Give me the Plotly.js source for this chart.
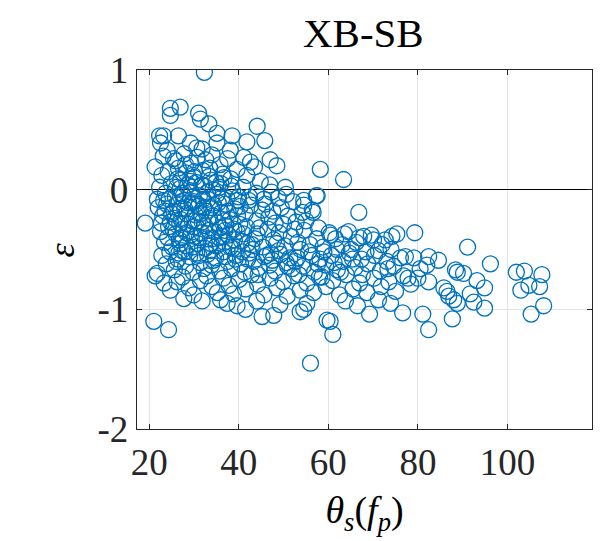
<!DOCTYPE html>
<html>
<head>
<meta charset="utf-8">
<script src="https://cdn.plot.ly/plotly-3.0.1.min.js"></script>
<style>html,body{margin:0;padding:0;background:#fff;}#chart{width:603px;height:541px;}</style>
</head>
<body>
<div id="chart"></div>
<script>
// theta_s(f_p) values (x) and epsilon values (y)
const thetaS = [
 32.3,24.7,26.9,24.7,31.0,31.4,33.3,44.1,22.3,23.2,26.5,35.1,38.5,41.8,45.8,21.3,58.2,47.0,48.5,50.4,57.5,54.5,29.2,31.8,22.5,24.0,35.1,38.1,41.1,42.6,
 23.1,25.4,27.8,29.3,30.7,32.6,34.0,35.8,37.5,39.6,41.8,43.5,26.5,28.2,31.9,33.4,24.2,22.8,36.4,38.2,44.8,46.9,30.0,27.0,
 22.3,23.6,24.9,25.8,26.9,27.7,28.6,29.4,30.5,31.2,32.3,33.1,34.2,35.1,36.0,37.3,38.6,39.8,41.0,42.4,43.9,45.6,47.3,48.8,50.6,52.1,21.8,29.9,33.7,26.3,
 22.0,23.0,23.9,24.7,25.5,26.2,27.1,27.9,28.8,29.5,30.3,31.0,31.8,32.7,33.5,34.4,35.3,36.1,37.0,38.0,39.1,40.2,41.4,42.7,44.0,45.2,46.7,48.1,49.5,51.0,52.8,54.2,25.0,28.3,30.9,33.9,36.6,39.7,23.5,26.8,
 22.5,23.4,24.3,25.1,25.9,26.7,27.5,28.4,29.2,30.0,30.8,31.6,32.5,33.3,34.1,35.0,35.9,36.8,37.7,38.7,39.6,40.6,41.7,42.9,44.1,45.4,46.5,47.8,49.0,50.3,51.7,53.2,54.6,55.9,57.4,58.8,60.5,61.6,63.1,64.5,66.2,67.9,70.1,72.0,74.2,75.3,79.3,27.2,31.2,36.3,43.6,48.4,
 22.8,23.8,24.6,25.6,26.4,27.3,28.1,29.0,29.8,30.6,31.4,32.2,33.0,33.9,34.8,35.7,36.6,37.5,38.4,39.4,40.4,41.3,42.3,43.3,44.5,45.7,46.9,48.1,49.3,50.6,51.9,53.1,54.4,55.6,56.9,58.1,59.4,60.7,62.0,63.3,64.7,66.0,67.4,68.8,70.3,71.6,73.1,74.6,76.1,77.2,79.1,80.5,82.4,82.0,84.6,88.4,88.8,90.2,96.2,26.0,34.3,42.0,47.5,52.6,57.6,61.3,65.4,
 23.3,24.7,26.2,27.4,28.9,29.9,31.4,32.8,34.0,35.2,36.5,37.8,38.8,40.1,41.5,42.8,44.2,45.6,47.0,48.5,49.9,50.8,52.3,53.7,55.2,56.7,58.0,59.5,61.0,62.5,64.0,65.5,67.0,68.6,70.2,71.8,73.5,75.0,76.8,78.4,80.0,82.4,85.8,86.5,86.9,91.7,93.2,94.9,103.0,104.8,107.2,102.0,103.8,107.7,
 27.7,35.9,37.4,41.5,45.2,47.8,53.7,55.2,54.5,59.7,60.4,61.0,56.0,69.2,76.6,81.1,82.4,87.7,88.0,88.8,92.5,94.9,105.3,108.1,21.0,24.3,63.8,66.5,71.2,73.9,44.0,49.2,31.8,39.6,
 91.1,19.1,21.3,21.8,63.4,57.3,66.8,56.4,54.5,56.6,
 24.4,25.3,26.1,26.9,27.6,28.3,29.1,29.7,30.4,31.1,31.7,32.4,33.0,33.6,34.3,34.9,35.6,36.2,36.9,37.6,38.3,39.0,39.9,40.8,25.7,27.0,28.0,29.6,30.2,31.5,32.9,34.6,35.4,37.1,38.9,40.3,24.1,23.2,22.7,26.6,28.7,30.1,32.0,33.8,36.7,38.1,41.1,42.2,43.0,44.6,45.9,46.2,47.6,48.9,50.0,51.4,52.5,53.8,55.0,56.3,57.8,59.0,60.2,61.9,63.6,65.1,66.9,68.4,69.6,71.2,72.7,74.0,
 28.1,30.6,33.5,27.3,29.8,35.7,25.9,32.2,36.9,39.2,41.9,44.3,47.1,50.9,53.4,58.6,62.7,67.6,73.3,77.8
];
const epsilon = [
 0.98,0.68,0.69,0.62,0.64,0.59,0.55,0.53,0.45,0.45,0.45,0.47,0.45,0.40,0.41,0.19,0.17,0.25,0.20,0.02,-0.05,-0.09,0.39,0.34,0.39,0.33,0.39,0.33,0.27,0.23,
 0.28,0.26,0.30,0.22,0.27,0.25,0.29,0.21,0.26,0.17,0.12,0.19,0.18,0.14,0.16,0.11,0.15,0.12,0.13,0.09,0.07,0.04,0.10,0.08,
 0.02,-0.03,0.05,-0.06,0.01,-0.09,0.04,-0.02,0.06,-0.05,0.03,-0.08,0.00,-0.04,0.05,-0.07,-0.01,-0.09,0.02,-0.06,-0.03,-0.08,-0.02,-0.07,-0.04,-0.10,-0.08,-0.10,0.08,0.09,
 -0.15,-0.22,-0.12,-0.27,-0.18,-0.13,-0.25,-0.16,-0.29,-0.11,-0.21,-0.14,-0.27,-0.18,-0.24,-0.13,-0.28,-0.19,-0.12,-0.25,-0.16,-0.29,-0.20,-0.13,-0.26,-0.17,-0.23,-0.28,-0.15,-0.22,-0.27,-0.19,-0.20,-0.20,-0.26,-0.15,-0.26,-0.22,-0.18,-0.28,
 -0.35,-0.44,-0.31,-0.48,-0.37,-0.42,-0.33,-0.47,-0.38,-0.31,-0.45,-0.36,-0.49,-0.34,-0.41,-0.47,-0.32,-0.44,-0.38,-0.49,-0.35,-0.43,-0.31,-0.46,-0.37,-0.48,-0.33,-0.42,-0.36,-0.47,-0.39,-0.44,-0.34,-0.46,-0.41,-0.48,-0.38,-0.41,-0.46,-0.35,-0.44,-0.39,-0.42,-0.46,-0.39,-0.37,-0.36,-0.40,-0.40,-0.39,-0.41,-0.45,
 -0.55,-0.62,-0.52,-0.67,-0.58,-0.51,-0.64,-0.56,-0.69,-0.53,-0.61,-0.66,-0.54,-0.63,-0.57,-0.68,-0.52,-0.60,-0.66,-0.55,-0.62,-0.69,-0.53,-0.60,-0.65,-0.56,-0.63,-0.68,-0.54,-0.61,-0.66,-0.57,-0.64,-0.52,-0.69,-0.58,-0.63,-0.55,-0.67,-0.60,-0.53,-0.65,-0.58,-0.62,-0.55,-0.68,-0.60,-0.64,-0.57,-0.56,-0.57,-0.66,-0.56,-0.63,-0.59,-0.67,-0.69,-0.70,-0.62,-0.60,-0.59,-0.58,-0.59,-0.60,-0.62,-0.61,-0.58,
 -0.78,-0.84,-0.77,-0.73,-0.82,-0.88,-0.76,-0.72,-0.81,-0.86,-0.74,-0.80,-0.87,-0.75,-0.83,-0.71,-0.79,-0.88,-0.74,-0.82,-0.77,-0.89,-0.72,-0.84,-0.78,-0.86,-0.73,-0.81,-0.76,-0.88,-0.71,-0.83,-0.78,-0.86,-0.74,-0.81,-0.77,-0.85,-0.72,-0.79,-0.74,-0.77,-0.82,-0.85,-0.89,-0.87,-0.76,-0.82,-0.84,-0.80,-0.81,-0.69,-0.68,-0.71,
 -0.91,-0.92,-0.95,-1.00,-1.06,-1.05,-1.02,-0.95,-1.00,-1.09,-1.10,-1.21,-1.45,-1.04,-1.03,-1.04,-1.17,-1.08,-0.92,-0.95,-0.94,-0.99,-1.04,-0.97,-1.10,-1.17,-0.93,-0.97,-0.92,-0.95,-0.93,-0.96,-0.93,-0.97,
 -0.48,-0.28,-0.72,-0.70,0.085,-0.05,-0.19,-0.17,-0.13,-0.19,
 -0.08,-0.33,0.02,-0.45,-0.05,-0.36,0.07,-0.48,-0.12,-0.55,0.04,-0.30,-0.02,-0.51,-0.22,0.06,-0.40,-0.07,-0.56,-0.18,0.03,-0.42,-0.06,-0.52,-0.24,-0.16,-0.52,-0.26,-0.39,-0.20,-0.41,-0.35,-0.11,-0.30,-0.33,-0.14,-0.40,-0.09,-0.28,-0.53,-0.11,0.15,-0.08,-0.45,0.10,-0.48,-0.37,-0.09,-0.50,-0.32,-0.12,-0.55,-0.18,-0.51,-0.29,-0.57,-0.33,-0.50,-0.26,-0.55,-0.32,-0.52,-0.36,-0.50,-0.37,-0.50,-0.40,-0.52,-0.38,-0.51,-0.42,-0.50,
 0.21,0.35,0.18,-0.03,0.12,0.02,0.24,-0.15,-0.34,-0.58,-0.45,-0.71,-0.53,-0.64,-0.71,-0.73,-0.69,-0.71,-0.66,-0.74
];
const xTickVals = [20, 40, 60, 80, 100];
const xTickText = ['20', '40', '60', '80', '100'];
const yTickVals = [-2, -1, 0, 1];
const yTickText = ['-2', '-1', '0', '1'];

const serif = 'Liberation Serif, Times New Roman, serif';
const axisCommon = {
  showline: true, linecolor: '#262626', linewidth: 1.3, mirror: 'ticks',
  ticks: 'inside', ticklen: 5, tickwidth: 1, tickcolor: '#262626',
  showgrid: true, gridcolor: '#e3e3e3', gridwidth: 1,
  tickfont: {family: serif, size: 37, color: '#262626'},
  automargin: false, fixedrange: true
};

const trace = {
  type: 'scatter', mode: 'markers', x: thetaS, y: epsilon,
  marker: {symbol: 'circle-open', size: 16, color: '#0072BD', line: {width: 1.3, color: '#0072BD'}},
  hoverinfo: 'skip', showlegend: false
};

const layout = {
  width: 603, height: 541,
  margin: {l: 137, r: 11, t: 70, b: 112, pad: 0},
  paper_bgcolor: '#ffffff', plot_bgcolor: '#ffffff',
  title: {text: 'XB-SB', font: {family: serif, size: 41, color: '#000000'}, x: 0.6025, xanchor: 'center', y: 0.94, yanchor: 'middle'},
  xaxis: Object.assign({}, axisCommon, {
    range: [17.25, 118.9], tickmode: 'array', tickvals: xTickVals, ticktext: xTickText,
    zeroline: false,
    title: {text: '<i>θ</i><sub><i>s</i></sub>(<i>f</i><sub><i>p</i></sub>)', font: {family: serif, size: 38, color: '#000000'}, standoff: 14}
  }),
  yaxis: Object.assign({}, axisCommon, {
    range: [-2, 1], tickmode: 'array', tickvals: yTickVals, ticktext: yTickText,
    zeroline: true, zerolinecolor: '#000000', zerolinewidth: 1.3
  }),
  annotations: [{
    text: '<i>ε</i>', xref: 'paper', yref: 'paper', x: -0.165, y: 0.5,
    xanchor: 'center', yanchor: 'middle', textangle: -90, showarrow: false,
    font: {family: serif, size: 36, color: '#000000'}
  }]
};

Plotly.newPlot('chart', [trace], layout, {displayModeBar: false, staticPlot: true});
</script>
</body>
</html>
